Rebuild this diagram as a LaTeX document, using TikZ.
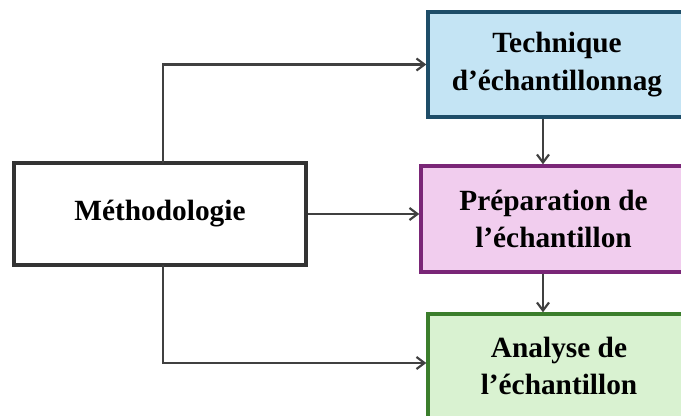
\documentclass[tikz,border=0pt]{standalone}
\usepackage{fontspec}
\setmainfont{Liberation Serif}
\usetikzlibrary{arrows.meta}
\definecolor{blueFill}{HTML}{C4E4F4}
\definecolor{blueLine}{HTML}{1E4D68}
\definecolor{pinkFill}{HTML}{F1CDEE}
\definecolor{pinkLine}{HTML}{7A2677}
\definecolor{greenFill}{HTML}{D9F2D1}
\definecolor{greenLine}{HTML}{3B7E2C}
\definecolor{wire}{HTML}{404040}
\begin{document}
\begin{tikzpicture}[x=0.75pt,y=-0.75pt,
  boxstyle/.style={draw, line width=2.6pt, align=center, inner sep=0pt,
    font=\fontsize{22}{28}\selectfont\bfseries},
  wirestyle/.style={draw=wire, line width=1.8pt, line join=miter,
    -{Straight Barb[length=6pt,width=9pt,line width=1.6pt]}}]
\clip (0,0) rectangle (681,416);
\fill[white] (0,0) rectangle (681,416);

% the four blocks
\node[boxstyle, draw=black!80, fill=white, minimum width=219pt, minimum height=76.5pt]
  (meth) at (160,214) {Méthodologie};
\node[boxstyle, draw=blueLine, fill=blueFill, minimum width=193.5pt, minimum height=78.75pt]
  (tech) at (557,64.5) {Technique\\d’échantillonnag};
\node[boxstyle, draw=pinkLine, fill=pinkFill, minimum width=198.75pt, minimum height=79.5pt]
  (prep) at (553.5,219) {Préparation de\\l’échantillon};
\node[boxstyle, draw=greenLine, fill=greenFill, minimum width=196.5pt, minimum height=78pt]
  (ana) at (559,366) {Analyse de\\l’échantillon};

% branch points on the left block
\coordinate (up) at (163,163);
\coordinate (down) at (163,265);
\coordinate (upturn) at (163,64.5);
\coordinate (downturn) at (163,363);

% connectors
\draw[wirestyle] (up) -- (upturn) -- (upturn -| tech.west);
\draw[wirestyle] (meth.east) -- (meth.east -| prep.west);
\draw[wirestyle] (down) -- (downturn) -- (downturn -| ana.west);
\draw[wirestyle] (tech.south -| 543,0) -- (prep.north -| 543,0);
\draw[wirestyle] (prep.south -| 543,0) -- (ana.north -| 543,0);
\end{tikzpicture}
\end{document}
